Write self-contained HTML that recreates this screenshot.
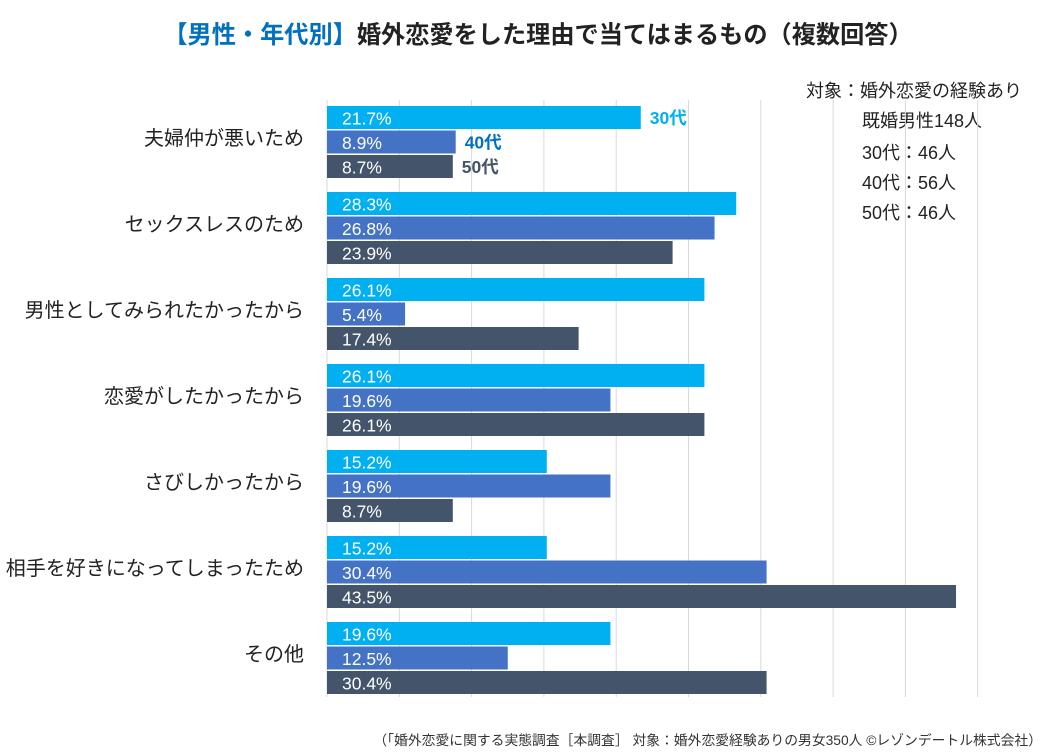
<!DOCTYPE html>
<html><head><meta charset="utf-8"><style>
body{margin:0;background:#fff;width:1050px;height:751px;overflow:hidden;font-family:"Liberation Sans","Noto Sans CJK JP",sans-serif;}
</style></head><body>
<svg id="c" width="1050" height="751" xmlns="http://www.w3.org/2000/svg" font-family="'Liberation Sans','Noto Sans CJK JP',sans-serif">
<text x="538" y="43" text-anchor="middle" font-size="24.2" font-weight="bold"><tspan fill="#0070C0">【男性・年代別】</tspan><tspan fill="#222">婚外恋愛をした理由で当てはまるもの（複数回答）</tspan></text>
<g font-size="18" fill="#222">
<text x="806" y="97">対象：婚外恋愛の経験あり</text>
<text x="862" y="127">既婚男性148人</text>
<text x="862" y="159">30代：46人</text>
<text x="862" y="189">40代：56人</text>
<text x="862" y="219">50代：46人</text>
</g>
<g id="grid"></g><g id="bars"></g>
<text x="1042" y="745" text-anchor="end" font-size="13.8" fill="#333">（「婚外恋愛に関する実態調査［本調査］ 対象：婚外恋愛経験ありの男女350人 ©レゾンデートル株式会社）</text>
</svg>
<script>
const categories=["夫婦仲が悪いため","セックスレスのため","男性としてみられたかったから","恋愛がしたかったから","さびしかったから","相手を好きになってしまったため","その他"];
const s30=[21.7,28.3,26.1,26.1,15.2,15.2,19.6];
const s40=[8.9,26.8,5.4,19.6,19.6,30.4,12.5];
const s50=[8.7,23.9,17.4,26.1,8.7,43.5,30.4];
const seriesNames=["30代","40代","50代"];
const gridTicks=[0,5,10,15,20,25,30,35,40,45];
const NS="http://www.w3.org/2000/svg";
const x=v=>327+v*14.46;
const gy=i=>106+i*86;
const colors=["#00B0F0","#4472C4","#44546A"];
const labelColors=["#00B0F0","#0070C0","#44546A"];
function mk(t,a,p){const e=document.createElementNS(NS,t);for(const k in a)e.setAttribute(k,a[k]);p.appendChild(e);return e;}
const g=document.getElementById('grid'),b=document.getElementById('bars');
gridTicks.forEach(t=>{const l=mk('line',{x1:x(t),x2:x(t),y1:100,y2:697,stroke:'#d9d9d9','stroke-width':1},g);

});
const series=[s30,s40,s50];
categories.forEach((c,i)=>{
 const t=mk('text',{x:304,y:gy(i)+39,'text-anchor':'end','font-size':20,fill:'#222'},b);t.textContent=c;
 
 
 series.forEach((s,j)=>{
  const y=gy(i)+j*24.5;
  const r=mk('rect',{x:327,y:y,width:x(s[i])-327,height:23,fill:colors[j]},b);
  
  
  const v=mk('text',{x:342,y:y+18.5,'font-size':17.5,fill:'#fff'},b);v.textContent=s[i].toFixed(1)+'%';
  
  
  if(i===0){const lt=mk('text',{x:x(s[i])+9,y:y+18,'font-size':17.5,'font-weight':'bold',fill:labelColors[j]},b);lt.textContent=seriesNames[j];
  
  }
 });
});
</script>
</body></html>
